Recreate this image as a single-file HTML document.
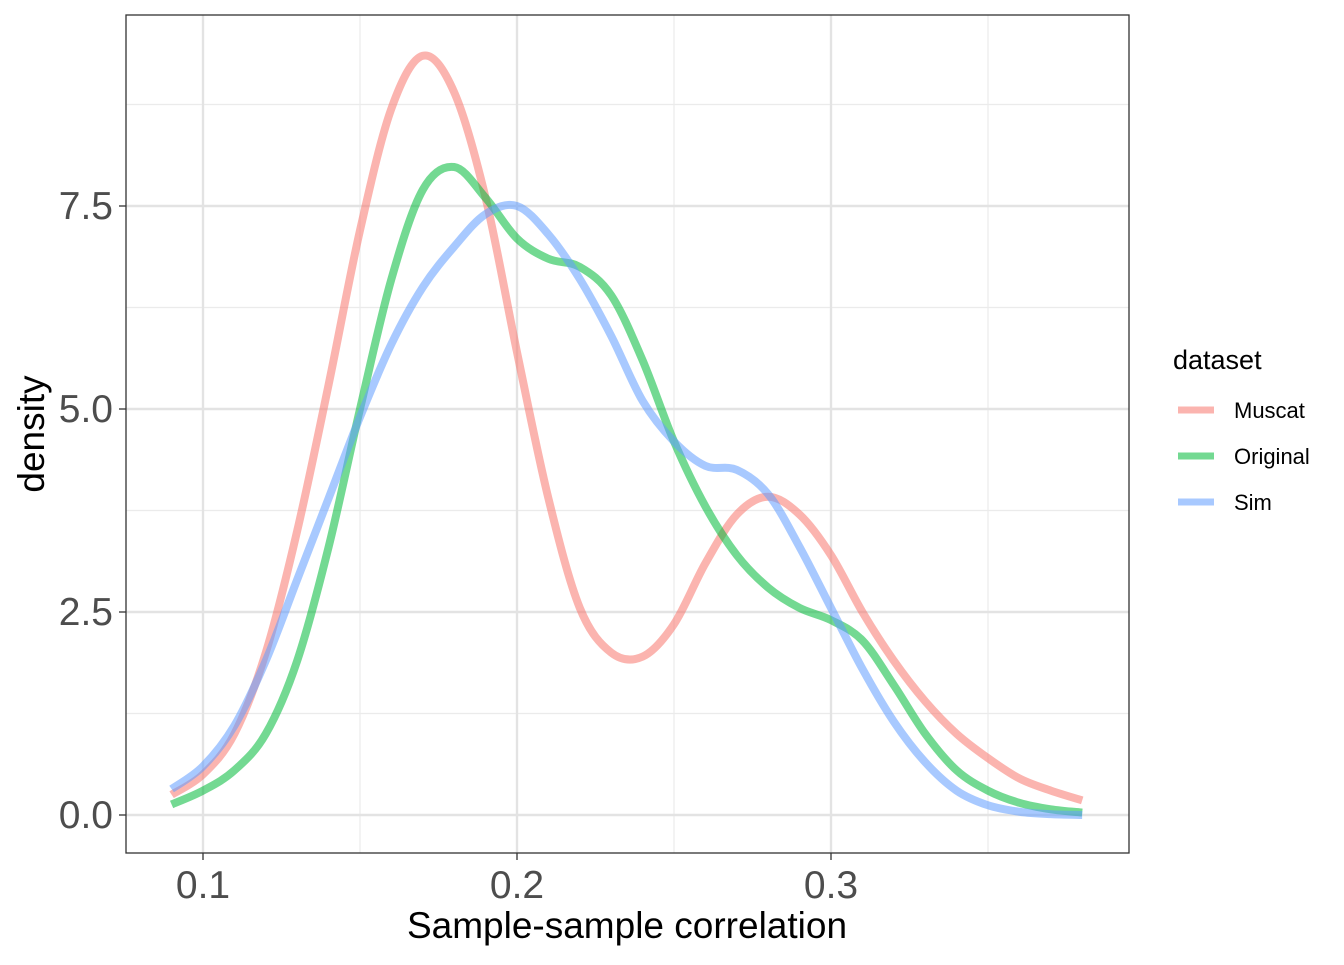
<!DOCTYPE html>
<html><head><meta charset="utf-8"><style>
body{margin:0;background:#fff;font-family:"Liberation Sans",Arial,sans-serif}
svg text{font-family:"Liberation Sans",Arial,sans-serif}
</style></head><body>
<svg id="chart" width="1344" height="960" viewBox="0 0 1344 960" xmlns="http://www.w3.org/2000/svg">
<rect x="0" y="0" width="1344" height="960" fill="#fff"/>
<g id="grid"></g>
<g id="series"></g>
<rect x="126" y="15" width="1003" height="838" fill="none" stroke="#333" stroke-width="1.3"/>
<g id="axes"></g>
<text x="627" y="938" font-size="37" text-anchor="middle" fill="#000">Sample-sample correlation</text>
<text x="0" y="0" font-size="37" text-anchor="middle" fill="#000" transform="translate(44,434) rotate(-90)">density</text>
<g id="legend">
<text x="1173" y="369" font-size="27" fill="#000">dataset</text>
</g>
</svg>
<script>
const xTicks=[0.1,0.2,0.3];
const xTickLabels=["0.1","0.2","0.3"];
const yTicks=[0,2.5,5,7.5];
const yTickLabels=["0.0","2.5","5.0","7.5"];
const seriesNames=["Muscat","Original","Sim"];
const muscatX=[0.09,0.10,0.11,0.12,0.13,0.14,0.15,0.16,0.17,0.18,0.19,0.20,0.21,0.22,0.23,0.24,0.25,0.26,0.27,0.28,0.29,0.30,0.31,0.32,0.33,0.34,0.35,0.36,0.37,0.38];
const muscatY=[0.25,0.5,1.0,2.0,3.5,5.3,7.2,8.7,9.35,8.9,7.6,5.7,3.9,2.55,2.0,1.95,2.35,3.1,3.7,3.92,3.7,3.2,2.5,1.9,1.4,1.0,0.7,0.45,0.3,0.18];
const originalX=[0.09,0.10,0.11,0.12,0.13,0.14,0.15,0.16,0.17,0.18,0.19,0.20,0.21,0.22,0.23,0.24,0.25,0.26,0.27,0.28,0.29,0.30,0.31,0.32,0.33,0.34,0.35,0.36,0.37,0.38];
const originalY=[0.13,0.3,0.55,1.0,1.9,3.3,5.0,6.6,7.7,7.98,7.6,7.1,6.85,6.75,6.4,5.6,4.6,3.8,3.2,2.8,2.55,2.4,2.15,1.6,1.0,0.55,0.3,0.15,0.07,0.03];
const simX=[0.09,0.10,0.11,0.12,0.13,0.14,0.15,0.16,0.17,0.18,0.19,0.20,0.21,0.22,0.23,0.24,0.25,0.26,0.27,0.28,0.29,0.30,0.31,0.32,0.33,0.34,0.35,0.36,0.37,0.38];
const simY=[0.32,0.6,1.1,1.9,2.9,3.9,4.9,5.8,6.5,7.0,7.4,7.5,7.15,6.6,5.9,5.1,4.6,4.3,4.25,3.95,3.3,2.55,1.8,1.15,0.65,0.3,0.12,0.04,0.01,0.0];

const NS="http://www.w3.org/2000/svg";
const px=v=>203+(v-0.1)*3140;
const py=v=>815-v*81.2;
const colors=["#F8766D","#00BA38","#619CFF"];
function mk(tag,parent,attrs){const e=document.createElementNS(NS,tag);for(const k in attrs)e.setAttribute(k,attrs[k]);parent.appendChild(e);return e;}
const grid=document.getElementById('grid'),axes=document.getElementById('axes'),ser=document.getElementById('series'),leg=document.getElementById('legend');
[0.15,0.25,0.35].forEach(v=>{const l=mk('line',grid,{x1:px(v),x2:px(v),y1:15,y2:853,stroke:'#ebebeb','stroke-width':1.2});

});
[1.25,3.75,6.25,8.75].forEach(v=>{const l=mk('line',grid,{x1:126,x2:1129,y1:py(v),y2:py(v),stroke:'#ebebeb','stroke-width':1.2});

});
xTicks.forEach((v,i)=>{const l=mk('line',grid,{x1:px(v),x2:px(v),y1:15,y2:853,stroke:'#e3e3e3','stroke-width':2.4});


const t=mk('line',axes,{x1:px(v),x2:px(v),y1:853,y2:860,stroke:'#333','stroke-width':1.3});


const tx=mk('text',axes,{x:px(v),y:898,'font-size':39,'text-anchor':'middle',fill:'#4d4d4d'});tx.textContent=xTickLabels[i];

});
yTicks.forEach((v,i)=>{const l=mk('line',grid,{x1:126,x2:1129,y1:py(v),y2:py(v),stroke:'#e3e3e3','stroke-width':2.4});


const t=mk('line',axes,{x1:119,x2:126,y1:py(v),y2:py(v),stroke:'#333','stroke-width':1.3});


const tx=mk('text',axes,{x:113,y:py(v)+13,'font-size':39,'text-anchor':'end',fill:'#4d4d4d'});tx.textContent=yTickLabels[i];

});
function pathD(xs,ys){const p=xs.map((x,i)=>[px(x),py(ys[i])]);let d='M'+p[0][0]+','+p[0][1];
for(let i=0;i<p.length-1;i++){const p0=p[Math.max(0,i-1)],p1=p[i],p2=p[i+1],p3=p[Math.min(p.length-1,i+2)];
const c1x=p1[0]+(p2[0]-p0[0])/6,c1y=p1[1]+(p2[1]-p0[1])/6,c2x=p2[0]-(p3[0]-p1[0])/6,c2y=p2[1]-(p3[1]-p1[1])/6;
d+=` C${c1x},${c1y} ${c2x},${c2y} ${p2[0]},${p2[1]}`;}return d;}
const data=[[muscatX,muscatY],[originalX,originalY],[simX,simY]];
data.forEach((s,i)=>{const p=mk('path',ser,{d:pathD(s[0],s[1]),fill:'none',stroke:colors[i],'stroke-opacity':0.55,'stroke-width':8,'stroke-linejoin':'round'});


const ly=410+i*46;
const k=mk('line',leg,{x1:1178,x2:1214,y1:ly,y2:ly,stroke:colors[i],'stroke-opacity':0.55,'stroke-width':7});


const t=mk('text',leg,{x:1234,y:ly+8,'font-size':22,fill:'#000'});t.textContent=seriesNames[i];

});
</script>
</body></html>
